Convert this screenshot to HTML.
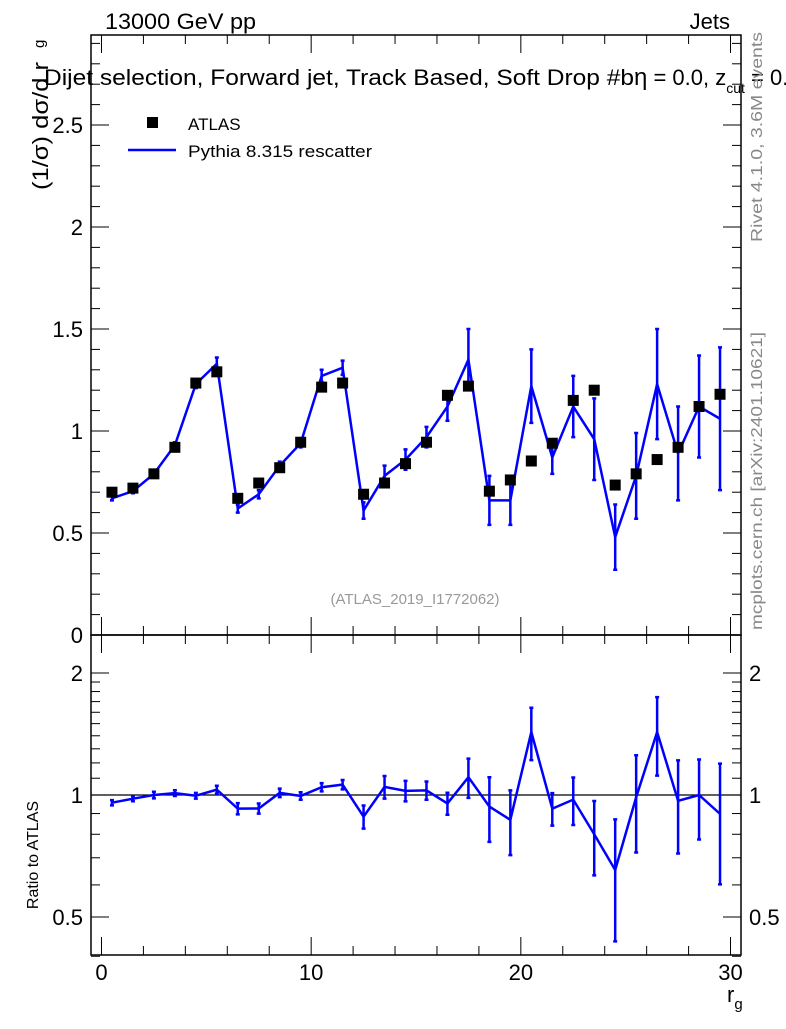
<!DOCTYPE html>
<html><head><meta charset="utf-8"><style>
html,body{margin:0;padding:0;background:#fff;}
svg text{font-family:"Liberation Sans",sans-serif;}
</style></head><body>
<svg id="c" width="786" height="1024" xmlns="http://www.w3.org/2000/svg">
<rect width="786" height="1024" fill="#fff"/>
<g id="g"></g>
<text x="105" y="29" font-size="22" textLength="151" lengthAdjust="spacingAndGlyphs">13000 GeV pp</text>
<text x="730" y="29" font-size="22" text-anchor="end">Jets</text>
<text x="44" y="85" font-size="22" textLength="590" lengthAdjust="spacingAndGlyphs">Dijet selection, Forward jet, Track Based, Soft Drop #b</text>
<text x="634" y="85" font-size="22"><tspan font-size="24">η</tspan> = 0.0, z<tspan font-size="14" dy="8">cut</tspan><tspan dy="-8"> = 0.1</tspan></text>
<text transform="translate(48,190) rotate(-90)" font-size="22" textLength="128" lengthAdjust="spacingAndGlyphs">(1/σ) dσ/d r</text>
<text transform="translate(44,48) rotate(-90)" font-size="15">g</text>
<text transform="translate(38,855) rotate(-90)" font-size="16" text-anchor="middle">Ratio to ATLAS</text>
<text x="727" y="1002" font-size="22">r<tspan font-size="15" dy="7">g</tspan></text>
<text transform="translate(762,242) rotate(-90)" font-size="16" fill="#888" textLength="210" lengthAdjust="spacingAndGlyphs">Rivet 4.1.0,  3.6M events</text>
<text transform="translate(762,630) rotate(-90)" font-size="16" fill="#888" textLength="298" lengthAdjust="spacingAndGlyphs">mcplots.cern.ch [arXiv:2401.10621]</text>
<text x="415" y="604" font-size="15" fill="#999" text-anchor="middle">(ATLAS_2019_I1772062)</text>
<rect x="147" y="117" width="11" height="11" fill="#000"/>
<text x="188" y="130" font-size="17">ATLAS</text>
<line x1="128" y1="150" x2="176" y2="150" stroke="#0000ff" stroke-width="2.5"/>
<text x="188" y="157" font-size="17" textLength="184" lengthAdjust="spacingAndGlyphs">Pythia 8.315 rescatter</text>
</svg>
<script>
const xCenters=[0.5,1.5,2.5,3.5,4.5,5.5,6.5,7.5,8.5,9.5,10.5,11.5,12.5,13.5,14.5,15.5,16.5,17.5,18.5,19.5,20.5,21.5,22.5,23.5,24.5,25.5,26.5,27.5,28.5,29.5];
const atlasVals=[0.70,0.72,0.79,0.92,1.235,1.29,0.67,0.745,0.82,0.945,1.215,1.235,0.69,0.745,0.84,0.945,1.175,1.22,0.705,0.76,0.853,0.94,1.15,1.20,0.735,0.79,0.86,0.92,1.12,1.18];
const pythiaVals=[0.67,0.705,0.79,0.93,1.23,1.33,0.62,0.69,0.83,0.94,1.27,1.31,0.61,0.78,0.86,0.97,1.12,1.35,0.66,0.66,1.22,0.87,1.12,0.96,0.48,0.78,1.23,0.89,1.12,1.06];
const pythiaErr=[0.01,0.01,0.015,0.015,0.02,0.03,0.02,0.02,0.02,0.02,0.03,0.035,0.04,0.05,0.05,0.05,0.07,0.15,0.12,0.12,0.18,0.08,0.15,0.2,0.16,0.21,0.27,0.23,0.25,0.35];
const mainTicks=[0,0.5,1,1.5,2,2.5];
const ratioTicks=[0.5,1,2];
const xTicks=[0,10,20,30];
const NS="http://www.w3.org/2000/svg";
const g=document.getElementById('g');
const L=91,R=741,T=35,MB=635,RB=955;
const X=v=>L+(v+0.5)*(R-L)/31;
const Y=v=>MB-v*204;
const RY=v=>795-122*Math.log2(v);
function el(t,a){const e=document.createElementNS(NS,t);for(const k in a)e.setAttribute(k,a[k]);g.appendChild(e);return e;}
let f=el('rect',{x:L,y:T,width:R-L,height:MB-T,fill:'none',stroke:'#000','stroke-width':1.5});


f=el('rect',{x:L,y:MB,width:R-L,height:RB-MB,fill:'none',stroke:'#000','stroke-width':1.5});


for(let v=0;v<=30;v+=2){const maj=v%10===0;const len=maj?18:9;
 for(const [yb,yt] of [[MB,T],[RB,MB]]){el('line',{x1:X(v),x2:X(v),y1:yb,y2:yb-len,stroke:'#000'});el('line',{x1:X(v),x2:X(v),y1:yt,y2:yt+len,stroke:'#000'});}}
xTicks.forEach(v=>{const t=el('text',{x:X(v),y:980,'font-size':22,'text-anchor':'middle'});t.textContent=v;

});
for(let i=0;i<=29;i++){const v=i/10;const maj=i%5===0;const len=maj?18:9;const y=Y(v);if(y<T)continue;
 el('line',{x1:L,x2:L+len,y1:y,y2:y,stroke:'#000'});el('line',{x1:R,x2:R-len,y1:y,y2:y,stroke:'#000'});}
mainTicks.forEach(v=>{const t=el('text',{x:83,y:Y(v)+8,'font-size':22,'text-anchor':'end'});t.textContent=v;

});
[0.4,0.5,0.6,0.7,0.8,0.9,1,1.1,1.2,1.3,1.4,1.5,1.6,1.7,1.8,1.9,2].forEach(v=>{const maj=ratioTicks.includes(v);const len=maj?18:9;const y=RY(v);
 el('line',{x1:L,x2:L+len,y1:y,y2:y,stroke:'#000'});el('line',{x1:R,x2:R-len,y1:y,y2:y,stroke:'#000'});});
ratioTicks.forEach(v=>{for(const [x,a] of [[83,'end'],[749,'start']]){const t=el('text',{x:x,y:RY(v)+8,'font-size':22,'text-anchor':a});t.textContent=v;

}});
let ln=el('line',{x1:L,x2:R,y1:RY(1),y2:RY(1),stroke:'#000','stroke-width':1.2});


function errbar(x,y1,y2,name){
 const e=el('path',{d:`M${x},${y1}V${y2}M${x-2},${y1}H${x+2}M${x-2},${y2}H${x+2}`,stroke:'#0000ff','stroke-width':2.5,fill:'none'});
 
 
}
let pts=[];xCenters.forEach((x,i)=>pts.push(X(x)+','+Y(pythiaVals[i])));
let p=el('polyline',{points:pts.join(' '),fill:'none',stroke:'#0000ff','stroke-width':2.5});


xCenters.forEach((x,i)=>errbar(X(x),Y(pythiaVals[i]-pythiaErr[i]),Y(pythiaVals[i]+pythiaErr[i]),'pythia-error-bar'));
xCenters.forEach((x,i)=>{const r=el('rect',{x:X(x)-5.5,y:Y(atlasVals[i])-5.5,width:11,height:11,fill:'#000'});

});
pts=[];xCenters.forEach((x,i)=>pts.push(X(x)+','+RY(pythiaVals[i]/atlasVals[i])));
p=el('polyline',{points:pts.join(' '),fill:'none',stroke:'#0000ff','stroke-width':2.5});


xCenters.forEach((x,i)=>{const lo=Math.max((pythiaVals[i]-pythiaErr[i])/atlasVals[i],0.41);const hi=(pythiaVals[i]+pythiaErr[i])/atlasVals[i];
 errbar(X(x),RY(lo),RY(hi),'ratio-error-bar');});
</script>
</body></html>
